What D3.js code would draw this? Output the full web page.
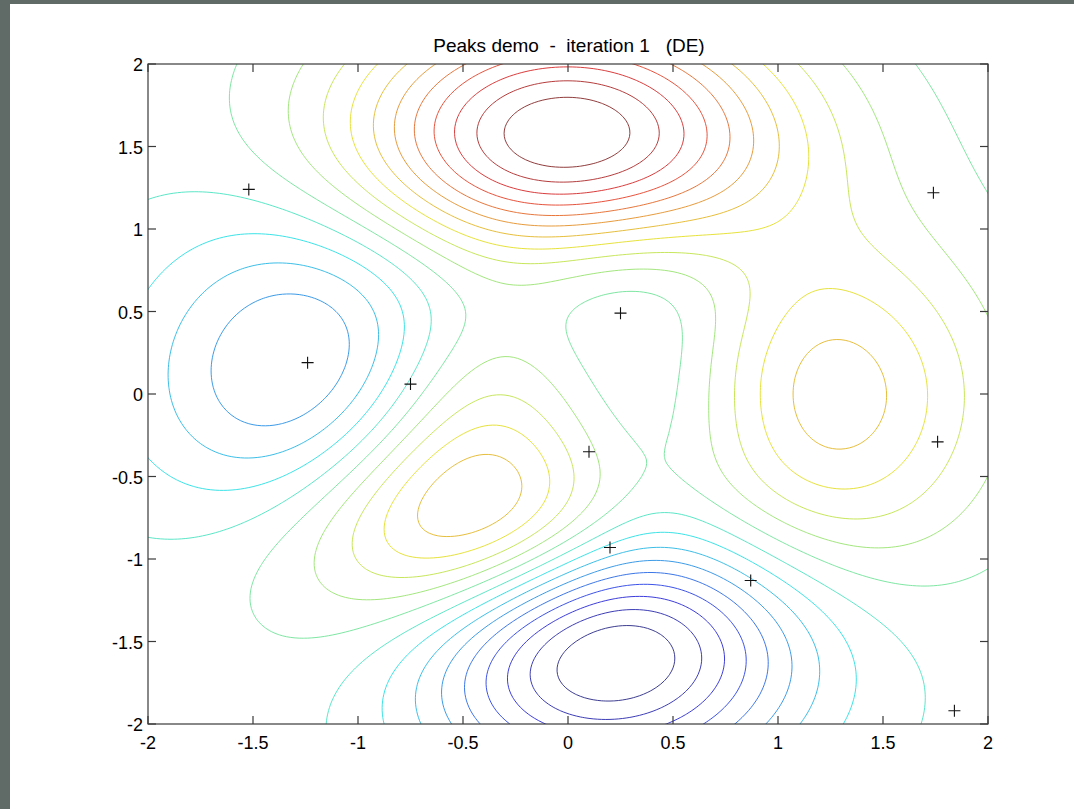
<!DOCTYPE html>
<html>
<head>
<meta charset="utf-8">
<script src="https://cdn.jsdelivr.net/npm/d3@7"></script>
<style>
  html, body { margin: 0; padding: 0; background: #606a66; }
  svg { display: block; }
  text { font-family: "Liberation Sans", Arial, sans-serif; fill: #000; }
</style>
</head>
<body>
<svg id="chart" width="1074" height="809"></svg>
<script>
// tick values on both axes
const xTicks = [-2, -1.5, -1, -0.5, 0, 0.5, 1, 1.5, 2];
const yTicks = [-2, -1.5, -1, -0.5, 0, 0.5, 1, 1.5, 2];
// DE population members
const popX = [-1.52, -1.24, -0.75, 0.25, 0.10, 0.20, 0.87, 1.74, 1.76, 1.84];
const popY = [1.24, 0.19, 0.06, 0.49, -0.35, -0.93, -1.13, 1.22, -0.29, -1.92];
const nLevels = 20;

// the MATLAB peaks surface being minimised
const sq = v => v * v;
const peaks = (x, y) => 3 * sq(1 - x) * Math.exp(-x * x - sq(y + 1))
  - 10 * (x / 5 - x * x * x - Math.pow(y, 5)) * Math.exp(-x * x - y * y)
  - 1 / 3 * Math.exp(-sq(x + 1) - y * y);

const svg = d3.select('#chart');
const m = { left: 148, right: 988, top: 64, bottom: 724 };

svg.append('rect').attr('x', 10).attr('y', 4).attr('width', 1064).attr('height', 805).attr('fill', '#fff');

const x = d3.scaleLinear().domain([-2, 2]).range([m.left, m.right]);
const y = d3.scaleLinear().domain([-2, 2]).range([m.bottom, m.top]);

// sample the surface a bit past the box so contour rings close outside the clip
const step = 0.02, g0 = -2.1, n = 211;
const values = new Array(n * n);
let zmin = Infinity, zmax = -Infinity;
for (let j = 0; j < n; j++) {
  for (let i = 0; i < n; i++) {
    const v = peaks(g0 + i * step, g0 + j * step);
    values[j * n + i] = v;
    const inside = Math.abs(g0 + i * step) <= 2.0001 && Math.abs(g0 + j * step) <= 2.0001;
    if (inside) { zmin = Math.min(zmin, v); zmax = Math.max(zmax, v); }
  }
}
const levels = d3.range(1, nLevels + 1).map(k => zmin + k * (zmax - zmin) / (nLevels + 1));

const jet = (t) => {
  const c = v => Math.max(0, Math.min(1, v));
  const r = c(1.5 - Math.abs(4 * t - 3)), gg = c(1.5 - Math.abs(4 * t - 2)), b = c(1.5 - Math.abs(4 * t - 1));
  // the screenshot's thin lines come out a little duller than pure jet
  return d3.interpolateRgb(d3.rgb(r * 255, gg * 255, b * 255), '#7a7a7a')(0.22);
};
const color = d3.scaleLinear().domain([levels[0], levels[levels.length - 1]]).range([0, 1]);

const contours = d3.contours().size([n, n]).thresholds(levels)(values);

const proj = d3.geoTransform({
  point(cx, cy) {
    this.stream.point(x(g0 + (cx - 0.5) * step), y(g0 + (cy - 0.5) * step));
  },
});
const path = d3.geoPath(proj);

svg.append('clipPath').attr('id', 'box')
  .append('rect').attr('x', m.left).attr('y', m.top)
  .attr('width', m.right - m.left).attr('height', m.bottom - m.top);

svg.append('g').attr('clip-path', 'url(#box)')
  .selectAll('path').data(contours).enter().append('path')
  .attr('d', path)
  .attr('fill', 'none')
  .attr('stroke', d => jet(color(d.value)))
  .attr('stroke-opacity', 0.85)
  .attr('stroke-width', 1);

// axes: box with inward ticks on all four sides
const tl = 8;
const axes = svg.append('g').attr('stroke', '#3a3a3a').attr('stroke-width', 1.2);
axes.append('rect').attr('x', m.left).attr('y', m.top)
  .attr('width', m.right - m.left).attr('height', m.bottom - m.top).attr('fill', 'none');
xTicks.forEach(t => {
  axes.append('line').attr('x1', x(t)).attr('x2', x(t)).attr('y1', m.bottom).attr('y2', m.bottom - tl);
  axes.append('line').attr('x1', x(t)).attr('x2', x(t)).attr('y1', m.top).attr('y2', m.top + tl);
});
yTicks.forEach(t => {
  axes.append('line').attr('y1', y(t)).attr('y2', y(t)).attr('x1', m.left).attr('x2', m.left + tl);
  axes.append('line').attr('y1', y(t)).attr('y2', y(t)).attr('x1', m.right).attr('x2', m.right - tl);
});

svg.append('g').selectAll('text').data(xTicks).enter().append('text')
  .attr('x', d => x(d)).attr('y', m.bottom + 25)
  .attr('text-anchor', 'middle').attr('font-size', 18)
  .text(d => d);
svg.append('g').selectAll('text').data(yTicks).enter().append('text')
  .attr('x', m.left - 5).attr('y', d => y(d) + 7)
  .attr('text-anchor', 'end').attr('font-size', 18)
  .text(d => d);

// population markers
const mk = 6;
svg.append('g').attr('stroke', '#111').attr('stroke-width', 1.1)
  .selectAll('path').data(popX.map((px, i) => [px, popY[i]])).enter().append('path')
  .attr('d', d => `M${x(d[0]) - mk},${y(d[1])}H${x(d[0]) + mk}M${x(d[0])},${y(d[1]) - mk}V${y(d[1]) + mk}`);

svg.append('text').attr('x', 569).attr('y', 52)
  .attr('text-anchor', 'middle').attr('font-size', 19)
  .style('white-space', 'pre')
  .text('Peaks demo  -  iteration 1   (DE)');
</script>
</body>
</html>
